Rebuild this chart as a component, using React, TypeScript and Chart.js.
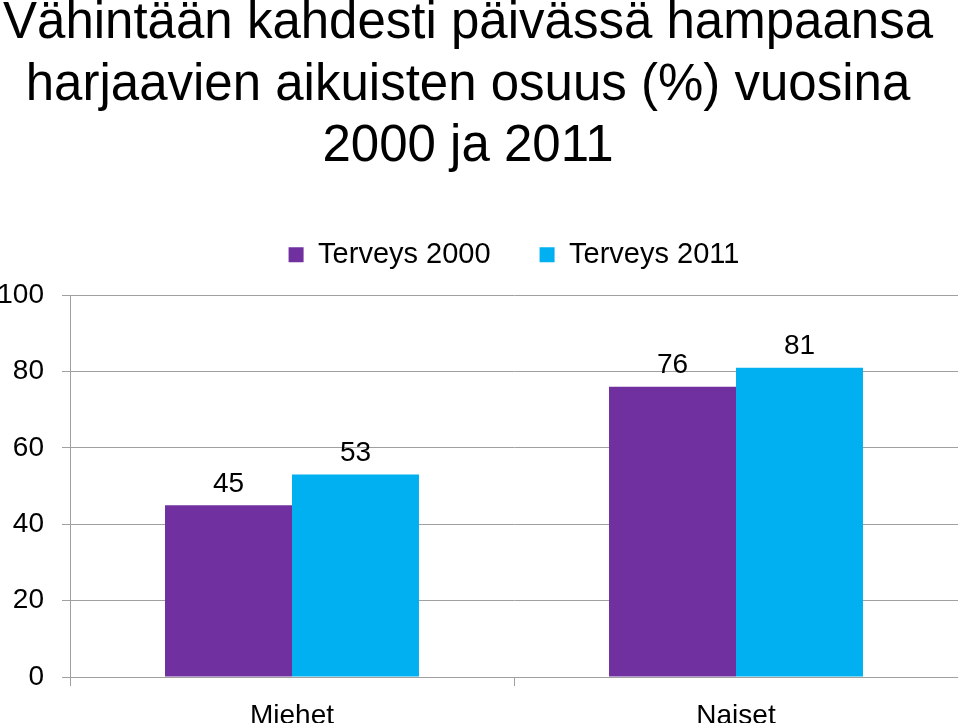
import React, { useEffect, useRef } from "react";
import { Chart, registerables } from "chart.js";

Chart.register(...registerables);

const FONT = "'Liberation Sans', Arial, Helvetica, sans-serif";

const titleLines = [
  "Vähintään kahdesti päivässä hampaansa",
  "harjaavien aikuisten osuus (%) vuosina",
  "2000 ja 2011",
];
const categories = ["Miehet", "Naiset"];
const seriesNames = ["Terveys 2000", "Terveys 2011"];
const terveys2000 = [45, 76];
const terveys2011 = [53, 81];
const seriesColors = ["#7030A0", "#00B0F0"];
const yTicks = [0, 20, 40, 60, 80, 100];

const GRID = "#A0A0A0";
const CANVAS_W = 980;
const CANVAS_H = 734;
const CANVAS_LEFT = -22;
const CANVAS_TOP = -7;
const LEGEND_GAP = 16;

const legendSpacer = {
  id: "legendSpacer",
  beforeLayout(chart: any) {
    const lg: any = chart.legend;
    if (lg && !lg.__wrapped) {
      const orig = lg.fit;
      lg.fit = function () {
        orig.call(this);
        this.height += LEGEND_GAP;
      };
      lg.__wrapped = true;
    }
  },
};

const valueLabels = {
  id: "valueLabels",
  afterDatasetsDraw(chart: any) {
    const ctx = chart.ctx;
    ctx.save();
    ctx.font = `28px ${FONT}`;
    ctx.fillStyle = "#000";
    ctx.textAlign = "center";
    ctx.textBaseline = "middle";
    chart.data.datasets.forEach((ds: any, i: number) => {
      const meta = chart.getDatasetMeta(i);
      meta.data.forEach((el: any, j: number) => {
        ctx.fillText(String(ds.data[j]), el.x, el.y - 21);
      });
    });
    ctx.restore();
  },
};

export default function App() {
  const ref = useRef<HTMLCanvasElement | null>(null);

  useEffect(() => {
    if (!ref.current) return;
    Chart.defaults.font.family = FONT;
    Chart.defaults.color = "#000";
    const chart = new Chart(ref.current, {
      type: "bar",
      data: {
        labels: categories,
        datasets: [
          {
            label: seriesNames[0],
            data: terveys2000,
            backgroundColor: seriesColors[0],
            borderWidth: 0,
          },
          {
            label: seriesNames[1],
            data: terveys2011,
            backgroundColor: seriesColors[1],
            borderWidth: 0,
          },
        ],
      },
      options: {
        responsive: false,
        animation: false,
        devicePixelRatio: 1,
        layout: { padding: 0 },
        datasets: {
          bar: { categoryPercentage: 0.572, barPercentage: 1 },
        } as any,
        plugins: {
          title: {
            display: true,
            text: titleLines,
            color: "#000",
            font: { size: 51, family: FONT, weight: "normal", lineHeight: 1.21 },
            padding: { top: 0, bottom: 13 },
          },
          legend: {
            display: true,
            position: "top",
            fullSize: false,
            labels: {
              boxWidth: 15,
              boxHeight: 15,
              padding: 49,
              color: "#000",
              font: { size: 29, family: FONT },
            },
          },
          tooltip: { enabled: false },
        },
        scales: {
          x: {
            grid: {
              display: true,
              drawOnChartArea: false,
              drawTicks: true,
              tickLength: 9,
              color: GRID,
            },
            border: { display: true, color: GRID, width: 1 },
            ticks: {
              color: "#000",
              font: { size: 28, family: FONT },
              padding: 13,
            },
            afterFit(scale: any) {
              scale.height = 50;
            },
          },
          y: {
            min: 0,
            max: 100,
            afterBuildTicks(scale: any) {
              scale.ticks = yTicks.map((v) => ({ value: v }));
            },
            grid: {
              display: true,
              drawOnChartArea: true,
              drawTicks: true,
              tickLength: 8,
              color: GRID,
            },
            border: { display: true, color: GRID, width: 1 },
            ticks: {
              color: "#000",
              font: { size: 28, family: FONT },
              padding: 18,
            },
            afterFit(scale: any) {
              scale.width = 92;
            },
          },
        },
      },
      plugins: [legendSpacer, valueLabels],
    });
    return () => chart.destroy();
  }, []);

  return (
    <div
      style={{
        position: "fixed",
        left: 0,
        top: 0,
        width: "100vw",
        height: "100vh",
        overflow: "hidden",
        background: "#fff",
      }}
    >
      <canvas
        ref={ref}
        width={CANVAS_W}
        height={CANVAS_H}
        style={{
          position: "absolute",
          left: CANVAS_LEFT,
          top: CANVAS_TOP,
          width: CANVAS_W,
          height: CANVAS_H,
        }}
      />
    </div>
  );
}
